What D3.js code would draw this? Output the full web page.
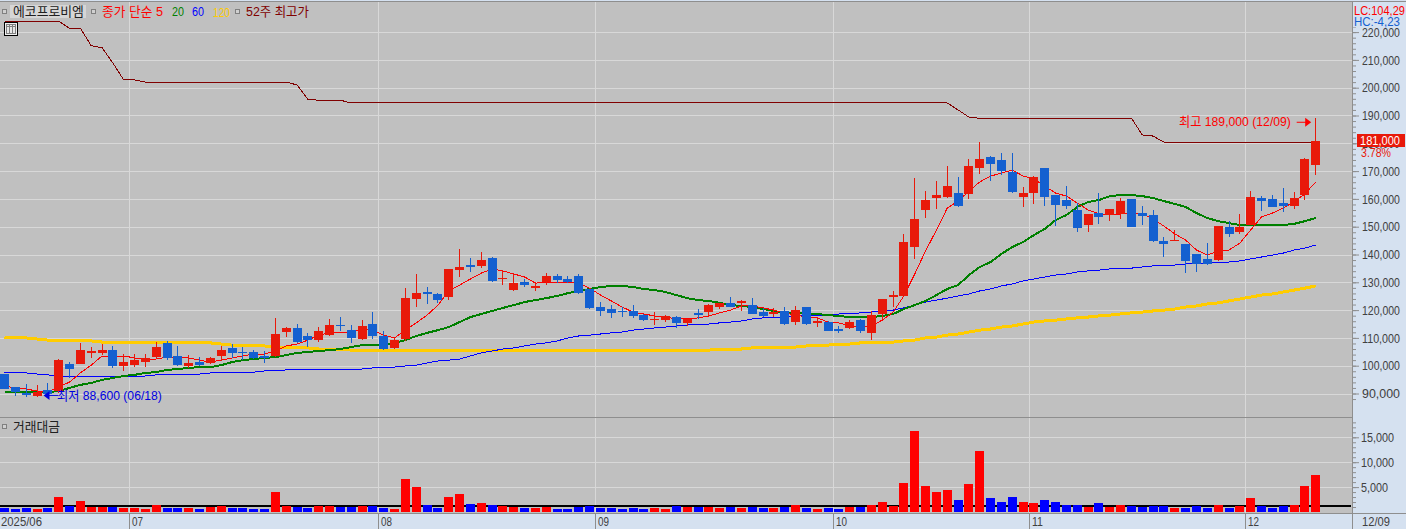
<!DOCTYPE html>
<html lang="ko"><head><meta charset="utf-8">
<style>html,body{margin:0;padding:0;background:#d5e1f0;overflow:hidden}svg{display:block}text{font-family:"Liberation Sans","Noto Sans CJK KR","Noto Sans",sans-serif}</style>
<script src="https://cdnjs.cloudflare.com/ajax/libs/d3/7.9.0/d3.min.js"></script>
</head><body><svg id="c" width="1406" height="529"></svg>
<script>
const dates=["06/13","06/16","06/17","06/18","06/19","06/20","06/23","06/24","06/25","06/26","06/27","06/30",
"07/01","07/02","07/03","07/04","07/07","07/08","07/09","07/10","07/11","07/14","07/15","07/16","07/17","07/18","07/21","07/22","07/23","07/24","07/25","07/28","07/29","07/30","07/31",
"08/01","08/04","08/05","08/06","08/07","08/08","08/11","08/12","08/13","08/14","08/18","08/19","08/20","08/21","08/22","08/25","08/26","08/27","08/28","08/29",
"09/01","09/02","09/03","09/04","09/05","09/08","09/09","09/10","09/11","09/12","09/15","09/16","09/17","09/18","09/19","09/22","09/23","09/24","09/25","09/26","09/29","09/30",
"10/01","10/02","10/10","10/13","10/14","10/15","10/16","10/17","10/20","10/21","10/22","10/23","10/24","10/27","10/28","10/29","10/30","10/31",
"11/03","11/04","11/05","11/06","11/07","11/10","11/11","11/12","11/13","11/14","11/17","11/18","11/19","11/20","11/21","11/24","11/25","11/26","11/27","11/28",
"12/01","12/02","12/03","12/04","12/05","12/08","12/09"];
const opens=[97000,92300,90200,89100,91300,90900,100600,100600,104600,104600,
105600,99900,100200,101300,103100,108200,103500,99900,101300,100900,
103500,106400,104900,104900,103500,103500,112100,113600,110700,109200,
111000,114600,112800,109600,115000,110700,106400,109600,124000,126500,
125800,124700,134400,136200,135900,138700,131200,127200,130100,127900,
130100,132300,131200,132300,127600,121100,120400,119700,119700,118200,
116400,116400,117500,115400,119000,119300,121100,122600,122600,121800,
119300,118600,119700,115700,121100,115400,115700,113200,113600,116400,
111800,118600,124700,125100,142700,156000,160300,160700,162100,161800,
171100,175100,174000,169700,160700,162100,171100,161400,159600,156000,
150600,154900,154200,154600,160000,154900,154200,144900,144900,143800,
140200,138400,138000,149900,148100,150600,160300,160000,158500,157400,
161400,172200];
const highs=[97000,92300,93400,93100,93800,102400,101300,108200,106700,107800,
107100,104200,104200,104200,108500,108900,107100,103800,103100,103100,
107100,107800,106700,105600,105300,117200,113900,115000,111800,113900,
116800,117500,114600,116400,119300,112500,110300,127900,133000,128300,
126100,134800,142000,138700,140900,139100,134400,133300,131200,130100,
133300,133000,132300,133000,127600,122900,121800,121100,121800,118600,
119300,118200,117900,116800,120400,122200,122600,124700,123600,124300,
120800,120800,121100,121500,121100,117200,116100,114300,116400,116800,
119700,124000,126900,147400,167500,162800,166400,171800,167900,174400,
180500,175400,176500,176500,164300,168200,171100,161400,164600,158500,
154600,162100,156400,160300,160000,157400,156000,146300,148800,143800,
140200,144100,150200,152000,154600,162800,161000,161400,163900,162500,
174700,189000];
const lows=[91600,89100,88700,88600,88700,90200,95600,100600,102800,103800,
99200,98100,99500,99500,102400,102000,99900,99200,99900,100600,
101700,102800,102000,102400,101000,103100,110300,108200,106700,108500,
110700,112500,108200,109200,109600,105600,106000,108900,121100,122200,
122600,123600,131900,133700,135100,130100,129000,126900,128300,126900,
129000,129700,129700,125800,120400,117900,117200,117500,117200,116100,
114600,115700,113600,114300,116800,117900,120400,121100,119700,118600,
117500,117500,114600,114600,114600,113900,112500,111800,113200,111800,
109200,116800,121100,125100,138400,153100,156400,160300,157100,160000,
169000,166400,168600,162100,157100,158200,157400,150200,156400,148100,
148100,151000,152000,152800,149900,150600,144500,139100,144900,133300,
133700,136200,137700,146300,147400,150600,155600,157100,155300,156400,
159600,168600];
const closes=[91600,90500,89500,90500,89800,102000,98800,105600,105300,105600,
99900,101300,102000,102800,106700,102800,100200,101000,100200,102800,
105600,104600,104600,102800,102800,111400,113600,108500,109200,112500,
114600,114300,110000,114300,110700,106000,109200,124300,126100,125800,
123600,134800,135500,135500,138000,130500,131500,129700,129000,128700,
132300,130800,130100,126100,120800,119700,119000,119300,117900,116400,
116800,117900,115400,116800,118200,121800,122600,121100,123300,118600,
117900,119300,115000,120000,115000,116100,112500,112500,115700,112500,
118200,124000,125400,144500,152800,159600,161400,164600,157400,171800,
174400,172600,170000,162500,162100,167900,160700,157800,157400,149500,
154600,153500,156400,159200,149900,153800,144900,143800,145200,137700,
136600,136600,150200,147400,149900,160700,159200,157100,157400,160300,
174400,181000];
const ma5=[92700,92000,91600,90900,90500,92300,94100,97400,100200,103500,
103100,103500,102800,102400,102400,103100,102800,102800,102000,101300,
102000,102800,103500,104200,104200,105300,107100,107800,109200,111000,
111800,111800,112100,113200,112800,111000,110000,112800,115400,118200,
121800,126900,129000,131200,133300,134800,134100,133000,131900,129700,
130100,130100,130100,129700,127900,125400,123300,121100,119300,118600,
117900,117500,116800,116800,117200,117900,119000,120000,121500,121500,
120800,120000,119000,118200,117500,117200,115700,115400,114300,113900,
114300,116400,119300,125100,133000,141300,148800,156700,159200,162800,
166100,168200,169300,170400,168200,167200,164600,162100,161000,158500,
156000,154600,154200,154600,154600,154600,152800,150200,147400,145200,
141600,139800,141300,141600,144100,148800,153500,154900,156700,158900,
161800,166100];
const ma20=[90500,90500,90500,90500,90500,90900,92000,93100,93800,94900,
95600,96300,96700,97400,97700,98500,98800,99200,99500,99500,
100200,101300,102000,102400,102800,103100,103800,104600,104900,105300,
105600,106000,106700,107400,107400,107400,108200,109200,110700,111800,
112800,113900,115700,117500,118600,119700,120800,121800,122900,123600,
124300,125100,126100,126900,127600,128300,128700,128700,128300,127600,
127200,126500,125400,124300,123600,123300,122600,121800,121500,121100,
120400,119700,119000,119000,118600,118600,118200,117900,117500,117500,
117500,117900,118600,120400,121800,123300,125400,127600,129000,132600,
135500,137300,140200,142700,144500,147000,149200,152400,154200,157100,
158900,159600,161000,161400,161400,161000,160300,159200,158200,157100,
154900,153100,152000,151300,150600,150600,150600,150600,150600,151000,
152000,153100];
const ma60=[97700,97400,97400,97000,96700,96300,96000,96000,96000,96000,
96000,96000,96000,96300,96700,96700,97000,97000,97000,97400,
97400,97400,97700,97700,98100,98100,98500,98500,98500,98500,
98800,98800,98800,98800,99200,99200,99500,99900,100200,101000,
101700,102000,102400,103500,104600,105300,106000,106400,107100,107800,
108200,108900,110000,110700,111000,111400,111800,112100,112800,113200,
113600,113900,114300,114600,115000,115000,115400,115700,116100,116800,
117200,117500,117500,117900,117900,118200,118200,118600,118600,119000,
119300,119700,120000,120800,121800,122900,123600,124300,125100,125800,
126900,127600,128700,129400,130500,131200,131900,132600,133000,133700,
134100,134400,134800,135100,135100,135500,135900,136200,136200,136600,
136600,136900,137300,137300,137700,138400,139100,139800,140500,141600,
142300,143400];
const ma120=[110300,110000,110000,109600,109200,109200,108900,108900,108900,108500,
108500,108500,108500,108500,108500,108500,108500,108200,108200,108200,
107800,107400,107400,107100,107100,106700,106700,106400,106400,106000,
106000,106000,105600,105600,105600,105600,105600,105600,105600,105600,
105600,105600,105600,105600,105600,105600,105600,105600,105600,105600,
105600,105600,105600,105600,105600,105600,105600,105600,105600,105600,
105600,105600,105600,105600,105600,105600,106000,106000,106000,106400,
106400,106400,106700,106700,107100,107100,107400,107800,107800,108200,
108200,108500,108500,108900,109200,110000,110300,111000,111400,112100,
112800,113200,113900,114300,115000,115700,116100,116400,116800,117200,
117500,117900,118200,118600,119000,119300,119700,120000,120400,121100,
121500,122200,122600,123300,124000,124700,125400,125800,126500,127200,
127900,128700];
const high52=[223900,223900,223900,223900,223900,223900,221400,221400,215100,214400,
208900,202800,202800,202000,202000,202000,202000,202000,202000,202000,
202000,202000,202000,202000,202000,202000,202000,201000,195800,195500,
195500,195500,194500,194500,194500,194500,194500,194500,194500,194500,
194500,194500,194500,194500,194500,194500,194500,194500,194500,194500,
194500,194500,194500,194500,194500,194500,194500,194500,194500,194500,
194500,194500,194500,194500,194500,194500,194500,194500,194500,194500,
194500,194500,194500,194500,194500,194500,194500,194500,194500,194500,
194500,194500,194500,194500,194500,194500,194500,194500,192000,189400,
189000,189000,189000,189000,189000,189000,189000,189000,189000,189000,
189000,189000,189000,189000,189000,183000,182600,180400,180400,180400,
180400,180400,180400,180400,180400,180400,180400,180400,180400,180400,
180400,180400];
const turnover=[800,600,800,600,800,3000,1200,2200,1000,1000,
1000,800,800,600,1400,800,800,800,600,1000,
1200,800,800,600,600,4000,1200,1000,800,1200,
1200,1000,1000,1200,1200,800,600,6600,5000,1400,
800,3000,3600,1600,1800,1400,1200,1000,800,800,
1000,600,600,1000,1200,800,800,600,800,600,
800,600,1200,1000,1000,1000,800,1000,800,1000,
800,800,1000,1400,800,600,800,600,1000,1000,
1400,2000,1200,5800,16200,5200,4000,4400,2400,5600,
12200,2800,2000,3000,2000,1800,2400,2000,1400,1400,
1000,1800,1000,1400,1200,1000,1200,1200,800,800,
1200,800,1400,800,1200,2800,1200,800,1200,1400,
5200,7400];
const turnoverAvg=1270;
const priceTicks=[90000,100000,110000,120000,130000,140000,150000,160000,170000,180000,190000,200000,210000,220000];
const volTicks=[5000,10000,15000];
const monthTicks=[["06/13","2025/06"],["07/01","07"],["08/01","08"],["09/01","09"],["10/01","10"],["11/03","11"],["12/01","12"]];
const lastDate="12/09", lastClose=181000, changePct="3.78%";
const hiLabel="최고 189,000 (12/09)", loLabel="최저 88,600 (06/18)", hiVal=189000, loVal=88600;

[opens,highs,lows,closes,ma5,ma20,ma60,ma120,high52,turnover].forEach((a,k)=>{if(a.length!==dates.length)throw new Error("len "+k+" "+a.length)});

const W=1406,H=529,R=1352,RED="#e8190a",BLU="#1460d0",TXT="#404040",EDGE="#8e8e8e",GRID="#d8d8d8",PANEL="#d5e1f0";
const svg=d3.select("#c");
const x=d3.scaleBand().domain(dates).range([-0.918,1321.12]);
const cx=d=>x(d)+x.bandwidth()/2;
const y=d3.scaleLinear().domain([90000,220000]).range([393.5,32.1]);
const yv=d3.scaleLinear().domain([0,15000]).range([512,437.3]);
const idx=dates.map((d,i)=>i);

svg.append("rect").attr("width",W).attr("height",H).attr("fill",PANEL);
svg.append("rect").attr("x",0).attr("y",2).attr("width",R).attr("height",511).attr("fill","#c0c0c0");

const crisp=s=>s.attr("shape-rendering","crispEdges");
const grid=svg.append("g").call(crisp).attr("stroke",GRID);
priceTicks.forEach(t=>grid.append("line").attr("x1",0).attr("x2",R).attr("y1",Math.round(y(t))+.5).attr("y2",Math.round(y(t))+.5));
volTicks.forEach(t=>grid.append("line").attr("x1",0).attr("x2",R).attr("y1",Math.round(yv(t))+.5).attr("y2",Math.round(yv(t))+.5));
monthTicks.slice(1).forEach(([d])=>grid.append("line").attr("x1",Math.round(x(d))+.5).attr("x2",Math.round(x(d))+.5).attr("y1",2).attr("y2",513));

// lines
const mk=a=>d3.line().x(i=>cx(dates[i])).y(i=>y(a[i]))(idx);
[[ma120,"#ffcc00",3],[ma60,"#0000ff",1],[ma20,"#008000",2],[ma5,"#ff0000",1],[high52,"#800000",1]].forEach(([a,c,w])=>{
 svg.append("path").attr("d",mk(a)).attr("fill","none").attr("stroke",c).attr("stroke-width",w).attr("shape-rendering","crispEdges");
});

// candles
const g=svg.append("g").call(crisp);
const col=i=>closes[i]>=opens[i]?RED:BLU;
g.selectAll(".w").data(idx).join("rect").attr("x",i=>Math.round(cx(dates[i])-4.5)+4).attr("width",1)
 .attr("y",i=>Math.round(y(highs[i]))).attr("height",i=>Math.max(1,Math.round(y(lows[i]))-Math.round(y(highs[i])))).attr("fill",col);
g.selectAll(".b").data(idx).join("rect").attr("x",i=>Math.round(cx(dates[i])-4.5)).attr("width",9)
 .attr("y",i=>Math.round(y(Math.max(opens[i],closes[i]))))
 .attr("height",i=>Math.max(1,Math.round(y(Math.min(opens[i],closes[i])))-Math.round(y(Math.max(opens[i],closes[i]))))).attr("fill",col);

// turnover
svg.append("rect").call(crisp).attr("x",0).attr("width",R-1).attr("y",Math.round(yv(turnoverAvg))-1).attr("height",2).attr("fill","#000");
svg.append("g").call(crisp).selectAll("rect").data(idx).join("rect")
 .attr("x",i=>Math.round(cx(dates[i])-4.5)).attr("width",9)
 .attr("y",i=>Math.round(yv(turnover[i]))).attr("height",i=>512-Math.round(yv(turnover[i])))
 .attr("fill",i=>closes[i]>=opens[i]?"#ff0000":"#0000ff");

// frame
const fr=svg.append("g").call(crisp).attr("fill",EDGE);
fr.append("rect").attr("x",0).attr("y",1).attr("width",W).attr("height",1);
fr.append("rect").attr("x",0).attr("y",417).attr("width",R).attr("height",1);
fr.append("rect").attr("x",0).attr("y",513).attr("width",W).attr("height",1);
fr.append("rect").attr("x",R).attr("y",2).attr("width",1).attr("height",H-2);

// squeeze a text horizontally to the width it has in the reference
function fit(node,w){
 const len=node.getComputedTextLength(), xv=+node.getAttribute("x")||0, yn=+node.getAttribute("y")||0;
 node.setAttribute("x",0);node.setAttribute("y",0);
 node.setAttribute("transform",`translate(${xv},${yn}) scale(${w/len},1)`);
}
function label(sel,txt,xp,yp,w,col,size){
 const t=sel.append("text").attr("x",xp).attr("y",yp).attr("fill",col).attr("font-size",size||13).attr("dominant-baseline","central").text(txt);
 if(w)fit(t.node(),w);
 return t;
}
// right axis via d3
const minorP=d3.range(88000,222001,2000), minorV=d3.range(1000,18001,1000);
const ax=svg.append("g").attr("transform",`translate(${R+1},0)`);
ax.append("g").call(d3.axisRight(y).tickValues(minorP).tickSize(3).tickFormat("")).call(s=>{s.select(".domain").remove();s.selectAll("line").attr("stroke",EDGE)});
ax.append("g").call(d3.axisRight(y).tickValues(priceTicks).tickSize(6).tickFormat(d3.format(","))).call(s=>{
 s.select(".domain").remove();s.selectAll("line").attr("stroke",EDGE);
 s.selectAll("text").attr("fill",TXT).attr("font-size",13).attr("x",9).each(function(){fit(this,38)});
});
ax.append("g").call(d3.axisRight(yv).tickValues(minorV).tickSize(3).tickFormat("")).call(s=>{s.select(".domain").remove();s.selectAll("line").attr("stroke",EDGE)});
ax.append("g").call(d3.axisRight(yv).tickValues(volTicks).tickSize(6).tickFormat(d3.format(","))).call(s=>{
 s.select(".domain").remove();s.selectAll("line").attr("stroke",EDGE);
 s.selectAll("text").attr("fill",TXT).attr("font-size",13).attr("x",8).each(function(d){fit(this,d>=10000?33:27)});
});
svg.append("rect").attr("x",R+1).attr("y",2).attr("width",W-R-1).attr("height",25).attr("fill",PANEL);
label(svg,"LC:104,29",1354,10.5,51,"#ff0000",13);
label(svg,"HC:-4,23",1354,21.5,46,BLU,13);

// last price
svg.append("rect").call(crisp).attr("x",1357).attr("y",Math.round(y(lastClose))-7).attr("width",48).attr("height",13).attr("fill",RED);
label(svg,d3.format(",")(lastClose),1360,y(lastClose)+.5,40,"#fff",13);
label(svg,changePct,1361,153,30,"#e8190a",12);

// bottom axis
const bax=svg.append("g").call(crisp).attr("fill",EDGE);
monthTicks.slice(1).forEach(([d])=>bax.append("rect").attr("x",Math.round(x(d))).attr("y",514).attr("width",1).attr("height",15));
monthTicks.forEach(([d,t],i)=>label(svg,t,i?Math.round(x(d))+3:1,521.5,i?11:41,TXT,13));
label(svg,lastDate,1362,521.5,28,TXT,13);

// extremes
const iHi=dates.indexOf(lastDate), iLo=dates.indexOf("06/18");
const hiY=y(hiVal)+4, loY=y(loVal)-2;
label(svg,hiLabel,1179,hiY-.5,112,"#ff0000",13);
svg.append("path").attr("d",`M${cx(dates[iHi])-19},${hiY}H${cx(dates[iHi])-9}`).attr("stroke","#ff0000").attr("stroke-width",1);
svg.append("path").attr("d",`M${cx(dates[iHi])-10.5},${hiY-4.5}L${cx(dates[iHi])-4.5},${hiY}L${cx(dates[iHi])-10.5},${hiY+4.5}Z`).attr("fill","#ff0000");
svg.append("path").attr("d",`M${cx(dates[iLo])+12},${loY}H${cx(dates[iLo])+21}`).attr("stroke","#0000e0").attr("stroke-width",1);
svg.append("path").attr("d",`M${cx(dates[iLo])+6.5},${loY}L${cx(dates[iLo])+12.5},${loY-4.5}L${cx(dates[iLo])+12.5},${loY+4.5}Z`).attr("fill","#0000e0");
label(svg,loLabel,57,loY,105,"#0000e0",13);

// legend
const sq=(px,py)=>svg.append("rect").call(crisp).attr("x",px).attr("y",py).attr("width",4).attr("height",4).attr("fill","#d0d0d0").attr("stroke","#808080");
svg.append("rect").call(crisp).attr("x",10).attr("y",5).attr("width",76).attr("height",13).attr("fill","#d6d6d6");
sq(2,9);sq(91,9);sq(235,9);sq(2,424);
label(svg,"에코프로비엠",13,11.5,71,"#202020",13);
label(svg,"종가 단순 5",102,11.5,61,"#ff0000",13);
label(svg,"20",172,11.5,12,"#008000",13);
label(svg,"60",192,11.5,12,"#0000ff",13);
label(svg,"120",213,11.5,17,"#ffcc00",13);
label(svg,"52주 최고가",246,11.5,63,"#800000",13);
label(svg,"거래대금",13,426,47,"#202020",13);

// table icon
const ic=svg.append("g").call(crisp);
ic.append("rect").attr("x",4.5).attr("y",22.5).attr("width",13).attr("height",13).attr("fill","#f0f0f0").attr("stroke","#000");
ic.append("rect").attr("x",6.5).attr("y",24.5).attr("width",9).attr("height",9).attr("fill","#e8e8e8").attr("stroke","#808080");
[9.5,12.5].forEach(v=>ic.append("line").attr("x1",v).attr("x2",v).attr("y1",25).attr("y2",33).attr("stroke","#808080"));
ic.append("line").attr("x1",7).attr("x2",15).attr("y1",26.5).attr("y2",26.5).attr("stroke","#808080");
</script></body></html>
